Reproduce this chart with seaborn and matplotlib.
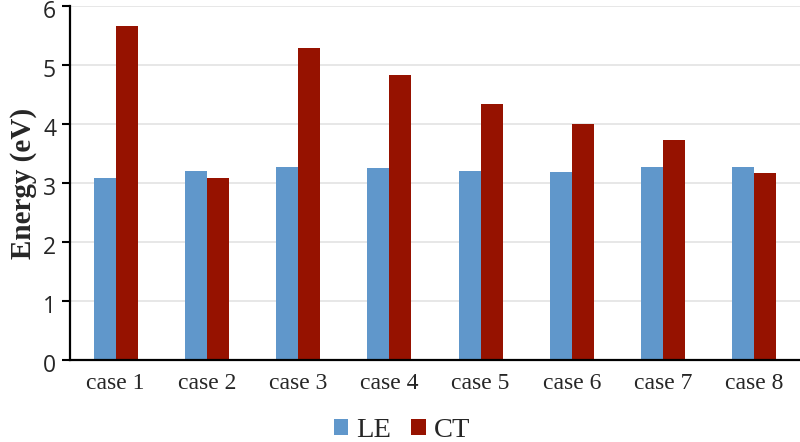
import matplotlib
matplotlib.use("Agg")
import matplotlib.pyplot as plt
import matplotlib.transforms as mtransforms
import seaborn as sns
import pandas as pd

categories = ["case 1", "case 2", "case 3", "case 4", "case 5", "case 6", "case 7", "case 8"]
le_values = [3.08, 3.20, 3.27, 3.26, 3.20, 3.19, 3.27, 3.27]
ct_values = [5.66, 3.09, 5.30, 4.83, 4.34, 4.01, 3.74, 3.17]
series_names = ["LE", "CT"]
y_ticks = [0, 1, 2, 3, 4, 5, 6]

df = pd.DataFrame({
    "case": categories * 2,
    "energy": le_values + ct_values,
    "type": [series_names[0]] * len(categories) + [series_names[1]] * len(categories),
})

sns.set_theme(style="white")
plt.rcParams["font.family"] = ["DejaVu Sans"]

fig = plt.figure(figsize=(8, 4.42), dpi=100)
ax = fig.add_axes([0.0875, 0.1855, 0.9125, 0.80])

sns.barplot(data=df, x="case", y="energy", hue="type", order=categories,
            hue_order=series_names, palette=["#6097CB", "#961200"],
            saturation=1, width=0.48, linewidth=0, ax=ax, legend=True)

ax.set_ylim(0, 6)
ax.set_xlim(-0.5, len(categories) - 0.5)
ax.set_yticks(y_ticks)
ax.tick_params(axis="x", length=0, pad=9)
ax.tick_params(axis="y", length=6, width=1.5, direction="out", left=True, pad=4, color="black")
ax.set_yticklabels([str(t) for t in y_ticks], fontsize=16.5, family="Open Sans")
offset = mtransforms.ScaledTranslation(0, -3 / 100, fig.dpi_scale_trans)
for lbl in ax.get_yticklabels():
    lbl.set_transform(lbl.get_transform() + offset)
ax.yaxis.grid(True, color="#E3E3E3", linewidth=1.2)
ax.set_axisbelow(True)
for lbl in ax.get_xticklabels():
    lbl.set_fontfamily("Liberation Serif")
    lbl.set_fontsize(17)
ax.set_xlabel("")
ax.set_ylabel("Energy (eV)", fontsize=21, fontweight="bold", family="Liberation Serif", labelpad=4)

for side in ["top", "right"]:
    ax.spines[side].set_visible(False)
for side in ["left", "bottom"]:
    ax.spines[side].set_color("black")
    ax.spines[side].set_linewidth(1.6)

handles, labels = ax.get_legend_handles_labels()
leg = ax.legend(handles, labels, loc="center", bbox_to_anchor=(0.455, -0.2),
                ncol=2, frameon=False, prop={"family": "Liberation Serif", "size": 20.5},
                handlelength=0.5, handleheight=0.5, handletextpad=0.3, columnspacing=0.7,
                borderpad=0.2)

fig.savefig("out.png", dpi=100)
